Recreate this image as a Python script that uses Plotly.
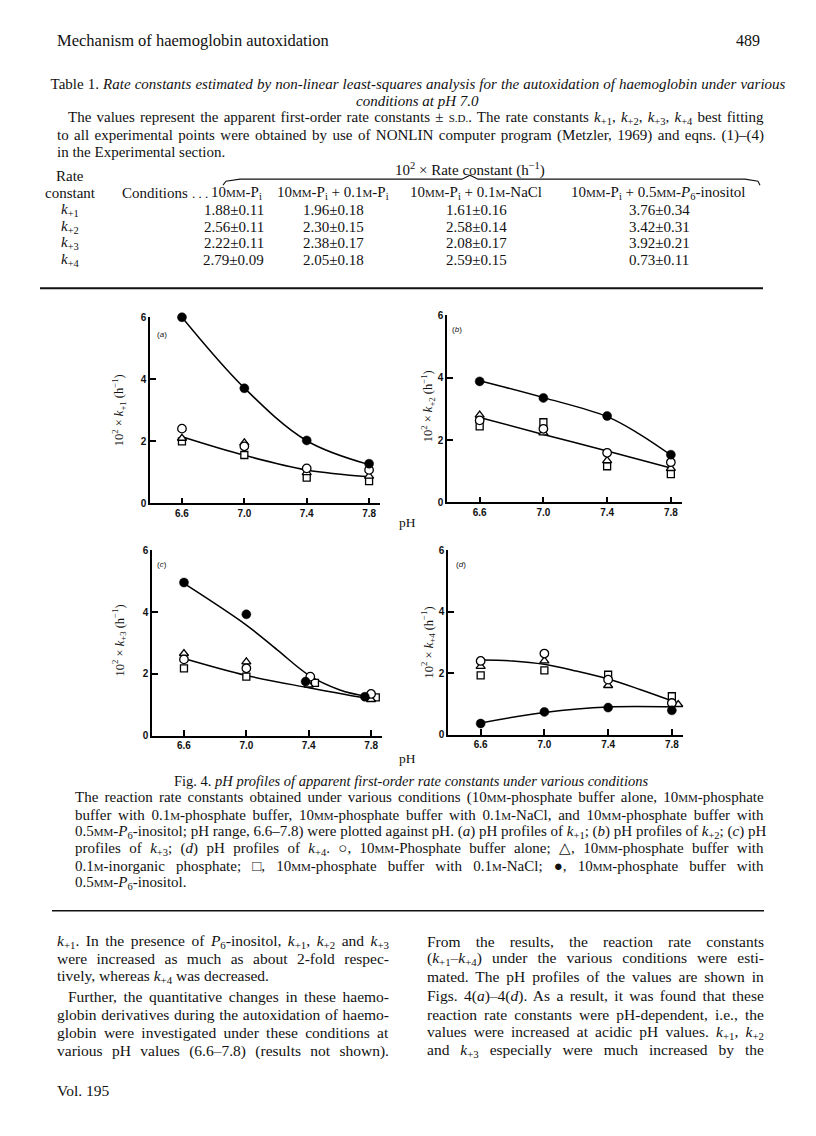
import json
import plotly.graph_objects as go

W, H = 816, 1136

# ---------------- data ----------------
pH = [6.6, 7.0, 7.4, 7.8]
x_ticks = [6.6, 7.0, 7.4, 7.8]
x_tick_labels = ["6.6", "7.0", "7.4", "7.8"]
y_ticks = [0, 2, 4, 6]
y_tick_labels = ["0", "2", "4", "6"]

# (a) k+1
a_circle = [2.41, 1.84, 1.13, 1.08]
a_triangle = [2.10, 1.95, 0.99, 0.88]
a_square = [2.00, 1.56, 0.83, 0.72]
a_filled = [6.00, 3.71, 2.03, 1.28]
a_fit_pH = [6.6, 7.0, 7.4, 7.8]
a_fit_open = [2.15, 1.55, 1.08, 0.86]
a_fit_filled = [6.00, 3.72, 2.02, 1.25]

# (b) k+2
b_circle = [2.63, 2.36, 1.59, 1.29]
b_triangle = [2.80, 2.23, 1.34, 1.09]
b_square = [2.44, 2.57, 1.16, 0.91]
b_filled = [3.88, 3.35, 2.77, 1.53]
b_fit_open_pH = [6.6, 7.0, 7.4, 7.8]
b_fit_open = [2.72, 2.18, 1.65, 1.10]
b_fit_filled_pH = [6.6, 7.0, 7.4, 7.6, 7.8]
b_fit_filled = [3.90, 3.36, 2.75, 2.20, 1.52]

# (c) k+3
c_filled_pH = [6.6, 7.0, 7.38, 7.76]
c_filled = [4.96, 3.93, 1.75, 1.26]
c_circle_pH = [6.6, 7.0, 7.41, 7.80]
c_circle = [2.47, 2.18, 1.91, 1.35]
c_triangle_pH = [6.6, 7.0, 7.40, 7.80]
c_triangle = [2.66, 2.39, 1.64, 1.17]
c_square_pH = [6.6, 7.0, 7.44, 7.83]
c_square = [2.18, 1.91, 1.71, 1.24]
c_fit_filled_pH = [6.6, 7.0, 7.2, 7.4, 7.6, 7.78]
c_fit_filled = [4.93, 3.58, 2.77, 1.96, 1.48, 1.26]
c_fit_open_pH = [6.6, 7.0, 7.4, 7.8]
c_fit_open = [2.50, 1.95, 1.55, 1.18]

# (d) k+4
d_filled = [0.36, 0.74, 0.88, 0.79]
d_circle = [2.40, 2.64, 1.79, 1.03]
d_triangle_pH = [6.6, 7.0, 7.4, 7.84]
d_triangle = [2.22, 2.40, 1.60, 0.98]
d_square = [1.93, 2.09, 1.95, 1.25]
d_fit_open_pH = [6.6, 6.8, 7.0, 7.2, 7.4, 7.6, 7.8]
d_fit_open = [2.43, 2.40, 2.29, 2.07, 1.81, 1.47, 1.10]
d_fit_filled_pH = [6.6, 7.0, 7.4, 7.82]
d_fit_filled = [0.38, 0.72, 0.90, 0.90]

# table values
table_rows = ["+1", "+2", "+3", "+4"]
col_p = ["1.88", "2.56", "2.22", "2.79"]
col_p_sd = ["0.11", "0.11", "0.11", "0.09"]
col_pp = ["1.96", "2.30", "2.38", "2.05"]
col_pp_sd = ["0.18", "0.15", "0.17", "0.18"]
col_nacl = ["1.61", "2.58", "2.08", "2.59"]
col_nacl_sd = ["0.16", "0.14", "0.17", "0.15"]
col_ino = ["3.76", "3.42", "3.92", "0.73"]
col_ino_sd = ["0.34", "0.31", "0.21", "0.11"]

# ---------------- helpers ----------------
SERIF = "Liberation Serif"
SANS = "Liberation Sans"


def px(x):
    return x / W


def py(y):
    yc = (y - 6) / 0.9895
    return 1 - yc / H


def sc(s, size=11):
    return f'<span style="font-size:{size}px">{s.upper()}</span>'


fig = go.Figure()

panels = [
    ("a", "x", "y", (150, 380), (503, 317)),
    ("b", "x2", "y2", (447, 682), (502, 315)),
    ("c", "x3", "y3", (152, 382), (735, 550)),
    ("d", "x4", "y4", (448, 683), (734, 550)),
]

open_style = dict(color="white", line=dict(color="black", width=1.3))


def add_panel(xa, ya, fits, series):
    for fx, fy in fits:
        fig.add_trace(go.Scatter(x=fx, y=fy, mode="lines", xaxis=xa, yaxis=ya,
                                 line=dict(color="black", width=1.5, shape="spline", smoothing=1.0),
                                 hoverinfo="skip", cliponaxis=False))
    for sx, sy, sym, size, filled in series:
        if filled:
            marker = dict(symbol=sym, size=size, color="black", line=dict(color="black", width=0.5))
        else:
            marker = dict(symbol=sym, size=size, **open_style)
        fig.add_trace(go.Scatter(x=sx, y=sy, mode="markers", xaxis=xa, yaxis=ya,
                                 marker=marker, cliponaxis=False))


add_panel("x", "y",
          [(a_fit_pH, a_fit_open), (a_fit_pH, a_fit_filled)],
          [(pH, a_square, "square", 7, False), (pH, a_triangle, "triangle-up", 8, False),
           (pH, a_circle, "circle", 8.5, False), (pH, a_filled, "circle", 9, True)])
add_panel("x2", "y2",
          [(b_fit_open_pH, b_fit_open), (b_fit_filled_pH, b_fit_filled)],
          [(pH, b_square, "square", 7, False), (pH, b_triangle, "triangle-up", 8, False),
           (pH, b_circle, "circle", 8.5, False), (pH, b_filled, "circle", 9, True)])
add_panel("x3", "y3",
          [(c_fit_open_pH, c_fit_open), (c_fit_filled_pH, c_fit_filled)],
          [(c_square_pH, c_square, "square", 7, False), (c_triangle_pH, c_triangle, "triangle-up", 8, False),
           (c_circle_pH, c_circle, "circle", 8.5, False), (c_filled_pH, c_filled, "circle", 9, True)])
add_panel("x4", "y4",
          [(d_fit_open_pH, d_fit_open), (d_fit_filled_pH, d_fit_filled)],
          [(pH, d_square, "square", 7, False), (d_triangle_pH, d_triangle, "triangle-up", 8, False),
           (pH, d_circle, "circle", 8.5, False), (pH, d_filled, "circle", 9, True)])

layout = dict(
    width=W, height=H, margin=dict(l=0, r=0, t=0, b=0),
    paper_bgcolor="white", plot_bgcolor="rgba(0,0,0,0)", showlegend=False,
)
axis_common = dict(showline=True, linecolor="black", linewidth=1.6, ticks="inside",
                   ticklen=6, tickwidth=1.5, tickcolor="black", showgrid=False,
                   zeroline=False, tickfont=dict(family=SANS, size=10, color="#111", weight="bold"))
for name, xa, ya, (x0, x1), (yb, yt) in panels:
    xk = "xaxis" if xa == "x" else "xaxis" + xa[1:]
    yk = "yaxis" if ya == "y" else "yaxis" + ya[1:]
    layout[xk] = dict(domain=[px(x0), px(x1)], range=[6.395, 7.87], anchor=ya,
                      tickvals=x_ticks, ticktext=x_tick_labels, **axis_common)
    layout[yk] = dict(domain=[py(yb), py(yt)], range=[0, 6], anchor=xa,
                      tickvals=y_ticks, ticktext=y_tick_labels, **axis_common)
fig.update_layout(**layout)

ann = []
justify = []  # [annotation index, target width px]


def text(x, y, s, size=15, anchor="left", family=SERIF, angle=0, color="#111", width=None):
    ann.append(dict(x=px(x), y=py(y), xref="paper", yref="paper", text=s, showarrow=False,
                    xanchor=anchor, yanchor="middle", align=anchor, textangle=angle,
                    font=dict(family=family, size=size, color=color)))
    if width is not None:
        justify.append([len(ann) - 1, width])


# panel labels / axis titles
for lab, x, y in [("a", 162, 334), ("b", 457, 329), ("c", 162, 564), ("d", 461, 564)]:
    text(x, y, f"(<i>{lab}</i>)", size=8, family=SANS, anchor="center")
for k, x, y in [("+1", 119, 410), ("+2", 428, 406), ("+3", 119, 640), ("+4", 428, 642)]:
    text(x, y, f"10<sup>2</sup> × <i>k</i><sub>{k}</sub> (h<sup>−1</sup>)", size=12.5,
         anchor="center", angle=-90)
text(407, 522, "pH", size=13.5, anchor="center")
text(407, 758, "pH", size=13.5, anchor="center")

# header
text(55, 40, "Mechanism of haemoglobin autoxidation", size=16.5)
text(762, 40, "489", size=16, anchor="right")

# table
TS = 15
text(418, 84, "Table 1. <i>Rate constants estimated by non-linear least-squares analysis for the "
              "autoxidation of haemoglobin under various</i>", size=TS, anchor="center", width=735)
text(418, 101, "<i>conditions at pH 7.0</i>", size=TS, anchor="center")
text(66, 118, "The values represent the apparent first-order rate constants ± " + sc("s.d.")
     + ". The rate constants <i>k</i><sub>+1</sub>, <i>k</i><sub>+2</sub>, <i>k</i><sub>+3</sub>, "
       "<i>k</i><sub>+4</sub> best fitting", size=TS, width=696)
text(55, 135, "to all experimental points were obtained by use of NONLIN computer program "
              "(Metzler, 1969) and eqns. (1)–(4)", size=TS, width=707)
text(55, 152, "in the Experimental section.", size=TS)
text(470, 169, "10<sup>2</sup> × Rate constant (h<sup>−1</sup>)", size=TS, anchor="center")
text(70, 176, "Rate", size=TS, anchor="center")
text(70, 193, "constant", size=TS, anchor="center")
text(155, 193, "Conditions", size=TS, anchor="center")
text(190, 193, ". . .", size=13)
MM = sc("mm")
M = sc("m")
text(236, 193, "10" + MM + "-P<sub>i</sub>", size=TS, anchor="center")
text(333, 193, "10" + MM + "-P<sub>i</sub> + 0.1" + M + "-P<sub>i</sub>", size=TS, anchor="center")
text(476, 193, "10" + MM + "-P<sub>i</sub> + 0.1" + M + "-NaCl", size=TS, anchor="center")
text(658, 193, "10" + MM + "-P<sub>i</sub> + 0.5" + MM + "-<i>P</i><sub>6</sub>-inositol",
     size=TS, anchor="center")
row_y = [210, 227, 243, 260]
for i, yv in enumerate(row_y):
    text(70, yv, f"<i>k</i><sub>{table_rows[i]}</sub>", size=TS, anchor="center")
    text(234, yv, f"{col_p[i]}±{col_p_sd[i]}", size=TS, anchor="center")
    text(333, yv, f"{col_pp[i]}±{col_pp_sd[i]}", size=TS, anchor="center")
    text(476, yv, f"{col_nacl[i]}±{col_nacl_sd[i]}", size=TS, anchor="center")
    text(659, yv, f"{col_ino[i]}±{col_ino_sd[i]}", size=TS, anchor="center")

# caption
text(411, 780, "Fig. 4. <i>pH profiles of apparent first-order rate constants under various conditions</i>",
     size=14.5, anchor="center")
cap = [
    "The reaction rate constants obtained under various conditions (10" + MM + "-phosphate buffer alone, 10"
    + MM + "-phosphate",
    "buffer with 0.1" + M + "-phosphate buffer, 10" + MM + "-phosphate buffer with 0.1" + M
    + "-NaCl, and 10" + MM + "-phosphate buffer with",
    "0.5" + MM + "-<i>P</i><sub>6</sub>-inositol; pH range, 6.6–7.8) were plotted against pH. (<i>a</i>) pH profiles of "
    "<i>k</i><sub>+1</sub>; (<i>b</i>) pH profiles of <i>k</i><sub>+2</sub>; (<i>c</i>) pH",
    "profiles of <i>k</i><sub>+3</sub>; (<i>d</i>) pH profiles of <i>k</i><sub>+4</sub>. ○, 10" + MM
    + "-Phosphate buffer alone; △, 10" + MM + "-phosphate buffer with",
    "0.1" + M + "-inorganic phosphate; □, 10" + MM + "-phosphate buffer with 0.1" + M + "-NaCl; ●, 10"
    + MM + "-phosphate buffer with",
    "0.5" + MM + "-<i>P</i><sub>6</sub>-inositol.",
]
for i, line in enumerate(cap):
    text(73, 797 + 17 * i, line, size=TS, width=(689 if i < len(cap) - 1 else None))

# body text
BS = 15.5
left = [
    (55, 941, "<i>k</i><sub>+1</sub>. In the presence of <i>P</i><sub>6</sub>-inositol, <i>k</i><sub>+1</sub>, "
              "<i>k</i><sub>+2</sub> and <i>k</i><sub>+3</sub>", 332),
    (55, 958, "were increased as much as about 2-fold respec-", 332),
    (55, 976, "tively, whereas <i>k</i><sub>+4</sub> was decreased.", None),
    (66, 996, "Further, the quantitative changes in these haemo-", 321),
    (55, 1014, "globin derivatives during the autoxidation of haemo-", 332),
    (55, 1032, "globin were investigated under these conditions at", 332),
    (55, 1050, "various pH values (6.6–7.8) (results not shown).", 332),
]
right = [
    (425, 941, "From the results, the reaction rate constants", 337),
    (425, 958, "(<i>k</i><sub>+1</sub>–<i>k</i><sub>+4</sub>) under the various conditions were esti-", 337),
    (425, 976, "mated. The pH profiles of the values are shown in", 337),
    (425, 995, "Figs. 4(<i>a</i>)–4(<i>d</i>). As a result, it was found that these", 337),
    (425, 1014, "reaction rate constants were pH-dependent, i.e., the", 337),
    (425, 1032, "values were increased at acidic pH values. <i>k</i><sub>+1</sub>, <i>k</i><sub>+2</sub>", 337),
    (425, 1050, "and <i>k</i><sub>+3</sub> especially were much increased by the", 337),
]
for x, y, s, wd in left + right:
    text(x, y, s, size=BS, width=wd)
text(55, 1090, "Vol. 195", size=BS)

fig.update_layout(annotations=ann)

# rules and brace
shapes = [
    dict(type="line", xref="paper", yref="paper", x0=px(40), x1=px(763), y0=py(288), y1=py(288),
         line=dict(color="#111", width=2.2)),
    dict(type="line", xref="paper", yref="paper", x0=px(52), x1=px(764), y0=py(910), y1=py(910),
         line=dict(color="#111", width=1.6)),
]
bx = [223, 226, 240, 462, 470, 478, 745, 758, 760]
by = [185, 181, 179, 179, 175, 179, 179, 181, 185]
path = "M " + " L ".join(f"{px(a):.5f},{py(b):.5f}" for a, b in zip(bx, by))
shapes.append(dict(type="path", xref="paper", yref="paper", path=path,
                   line=dict(color="#111", width=1.1)))
fig.update_layout(shapes=shapes)

post = """
document.body.style.margin = '0';
document.body.style.overflow = 'hidden';
var J = %s;
J.forEach(function (p) {
  var g = document.querySelector('.annotation[data-index="' + p[0] + '"]');
  if (!g) return;
  var t = g.querySelector('text.annotation-text');
  if (!t) return;
  var w = t.getBBox().width;
  var n = (t.textContent.match(/ /g) || []).length;
  if (n > 0 && p[1] > w) { t.style.wordSpacing = ((p[1] - w) / n) + 'px'; }
});
""" % json.dumps(justify)

fig.write_html("out.html", post_script=post, config={"displayModeBar": False})
